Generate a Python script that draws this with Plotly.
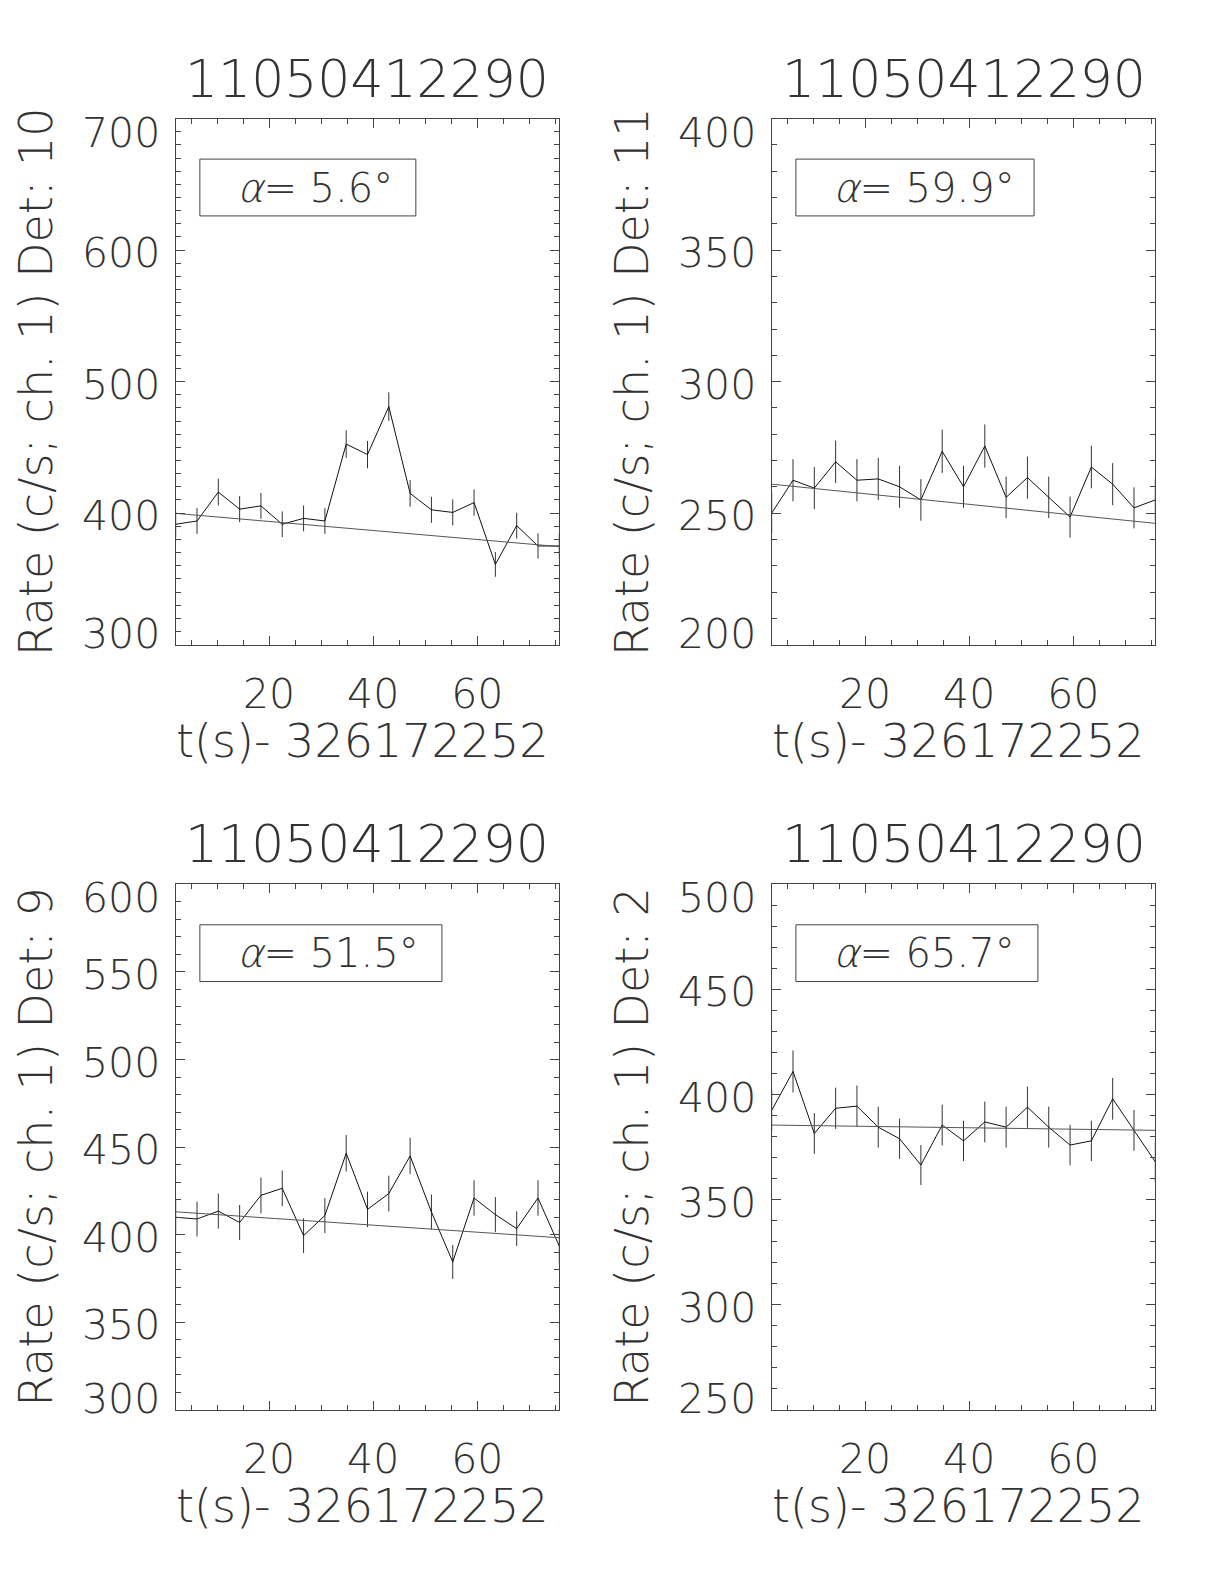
import plotly.graph_objects as go

# ---------------- data ----------------
t = [2.048, 6.144, 10.240, 14.336, 18.432, 22.528, 26.624, 30.720, 34.816, 38.912,
     43.008, 47.104, 51.200, 55.296, 59.392, 63.488, 67.584, 71.680, 75.776]

title_id = "11050412290"
x_title = "t(s)- 326172252"

det_labels = ["Rate (c/s; ch. 1) Det: 10", "Rate (c/s; ch. 1) Det: 11",
              "Rate (c/s; ch. 1) Det: 9", "Rate (c/s; ch. 1) Det: 2"]
alpha_labels = ["5.6°", "59.9°", "51.5°", "65.7°"]

rate_det10 = [391.5, 394, 416, 403, 405.5, 391.5, 396, 394, 452.5, 444.5,
              481, 415, 402.5, 400.5, 408, 361, 390.5, 375, 375]
err_det10 = [9.8, 9.8, 10.1, 9.9, 9.9, 9.8, 9.8, 9.8, 10.5, 10.4,
             10.8, 10.1, 9.9, 9.9, 10.0, 9.4, 9.8, 9.6, 9.6]
fit_det10 = [399.8, 374.5]

rate_det11 = [250, 262.5, 259.5, 269.5, 262.5, 263, 260, 255, 273.5, 260,
              275.5, 256, 263.5, 256, 248.5, 267.5, 261, 252, 255]
err_det11 = [7.8, 8.0, 8.0, 8.1, 8.0, 8.0, 8.0, 7.9, 8.2, 8.0,
             8.2, 7.9, 8.0, 7.9, 7.8, 8.1, 8.0, 7.8, 7.9]
fit_det11 = [261.0, 246.1]

rate_det9 = [410, 409, 413.5, 407, 422.5, 426.5, 399.5, 411, 446.5, 414.5,
             423.5, 445, 413, 384.5, 421, 411.5, 403.5, 421, 393.5]
err_det9 = [10.0, 10.0, 10.0, 10.0, 10.2, 10.2, 9.9, 10.0, 10.4, 10.1,
            10.2, 10.4, 10.0, 9.7, 10.1, 10.0, 9.9, 10.1, 9.8]
fit_det9 = [413.1, 398.3]

rate_det2 = [392.5, 411, 381.5, 393.5, 394.5, 384.5, 379, 366.5, 385.5, 378,
             387, 384.5, 394, 384.5, 376, 378, 398, 383, 368]
err_det2 = [9.8, 10.0, 9.7, 9.8, 9.8, 9.7, 9.6, 9.5, 9.7, 9.6,
            9.7, 9.7, 9.8, 9.7, 9.6, 9.6, 9.9, 9.7, 9.5]
fit_det2 = [385.5, 383.0]

y_ranges = [[300, 700], [200, 400], [300, 600], [250, 500]]
y_tickvals = [[300, 400, 500, 600, 700],
              [200, 250, 300, 350, 400],
              [300, 350, 400, 450, 500, 550, 600],
              [250, 300, 350, 400, 450, 500]]
x_tickvals = [20, 40, 60]

rates = [rate_det10, rate_det11, rate_det9, rate_det2]
errs = [err_det10, err_det11, err_det9, err_det2]
fits = [fit_det10, fit_det11, fit_det9, fit_det2]

# ---------------- layout geometry ----------------
W, H = 1224, 1584
OFF = 8  # default page body margin


def px_x(p):
    return (p - OFF) / W


def px_y(p):
    return 1 - (p - OFF) / H


x_doms = [[px_x(175.7), px_x(559.3)], [px_x(771.7), px_x(1155.3)]]
y_doms = [[px_y(644.6), px_y(118.6)], [px_y(1410), px_y(884.3)]]
alpha_box_right = [0.626, 0.684, 0.694, 0.694]

FONT = "DejaVu Sans ExtraLight, DejaVu Sans Light, DejaVu Sans"
TXT = "#333333"
AX = "#444444"

fig = go.Figure()
layout = dict(template="none", width=W, height=H,
              margin=dict(l=0, r=0, t=0, b=0, pad=0, autoexpand=False),
              paper_bgcolor="white", plot_bgcolor="white", showlegend=False,
              font=dict(family=FONT, color=TXT, size=40))
annotations = []
shapes = []

for i in range(4):
    row, col = divmod(i, 2)
    n = i + 1
    xa = "x" if n == 1 else f"x{n}"
    ya = "y" if n == 1 else f"y{n}"
    xkey = "xaxis" if n == 1 else f"xaxis{n}"
    ykey = "yaxis" if n == 1 else f"yaxis{n}"

    fig.add_trace(go.Scatter(
        x=t, y=rates[i], mode="lines", xaxis=xa, yaxis=ya,
        line=dict(color="#111111", width=1),
        error_y=dict(type="data", array=errs[i], visible=True, width=0,
                     thickness=1, color="#333333")))
    fig.add_trace(go.Scatter(
        x=[t[0], t[-1]], y=fits[i], mode="lines", xaxis=xa, yaxis=ya,
        line=dict(color="#555555", width=1)))

    layout[xkey] = dict(domain=x_doms[col], anchor=ya, range=[t[0], t[-1]],
                        automargin=False,
                        tickmode="array", tickvals=x_tickvals,
                        ticks="inside", ticklen=9, tickcolor=AX, tickwidth=1,
                        minor=dict(ticks="inside", ticklen=5, dtick=5, tick0=0,
                                   tickcolor=AX, tickwidth=1, showgrid=False),
                        showline=True, linecolor=AX, linewidth=1, mirror="ticks",
                        showgrid=False, zeroline=False, ticklabelstandoff=13,
                        tickfont=dict(family=FONT, size=41, color=TXT))
    layout[ykey] = dict(domain=y_doms[row], anchor=xa, range=y_ranges[i],
                        automargin=False,
                        tickmode="array", tickvals=y_tickvals[i],
                        showticklabels=False,
                        ticks="inside", ticklen=9, tickcolor=AX, tickwidth=1,
                        minor=dict(ticks="inside", ticklen=5, dtick=10, tick0=0,
                                   tickcolor=AX, tickwidth=1, showgrid=False),
                        showline=True, linecolor=AX, linewidth=1, mirror="ticks",
                        showgrid=False, zeroline=False)

    # y tick labels (end labels kept inside the axis span, as in the original)
    tv = y_tickvals[i]
    for k, v in enumerate(tv):
        ys = -3
        if k == 0:
            ys = 11
        elif k == len(tv) - 1:
            ys = -14
        annotations.append(dict(text=str(v), xref=f"{xa} domain", yref=ya,
                                x=0, y=v, xanchor="right", yanchor="middle",
                                xshift=-14, yshift=ys, showarrow=False,
                                font=dict(family=FONT, size=41, color=TXT)))

    xd = x_doms[col]
    yd = y_doms[row]
    xc = (xd[0] + xd[1]) / 2
    # panel title
    annotations.append(dict(text=title_id, xref="paper", yref="paper",
                            x=xc, y=yd[1] + 40 / H, xanchor="center", yanchor="middle",
                            showarrow=False, font=dict(family=FONT, size=52, color=TXT)))
    # x title
    annotations.append(dict(text=x_title, xref="paper", yref="paper",
                            x=xc - 5 / W, y=yd[0] - 96 / H, xanchor="center", yanchor="middle",
                            showarrow=False, font=dict(family=FONT, size=46, color=TXT)))
    # y title
    annotations.append(dict(text=det_labels[i], xref="paper", yref="paper",
                            x=xd[0] - 140 / W, y=(yd[0] + yd[1]) / 2,
                            xanchor="center", yanchor="middle", textangle=-90,
                            showarrow=False, font=dict(family=FONT, size=46, color=TXT)))
    # alpha box
    shapes.append(dict(type="rect", xref=f"{xa} domain", yref=f"{ya} domain",
                       x0=0.063, x1=alpha_box_right[i], y0=0.815, y1=0.923,
                       line=dict(color=AX, width=1), fillcolor="rgba(0,0,0,0)"))
    annotations.append(dict(text="<i>α</i>= " + alpha_labels[i],
                            xref=f"{xa} domain", yref=f"{ya} domain",
                            x=0.155, y=0.869, xanchor="left", yanchor="middle",
                            showarrow=False, font=dict(family=FONT, size=40, color=TXT)))

layout["annotations"] = annotations
layout["shapes"] = shapes
fig.update_layout(**layout)
fig.write_html("out.html")
